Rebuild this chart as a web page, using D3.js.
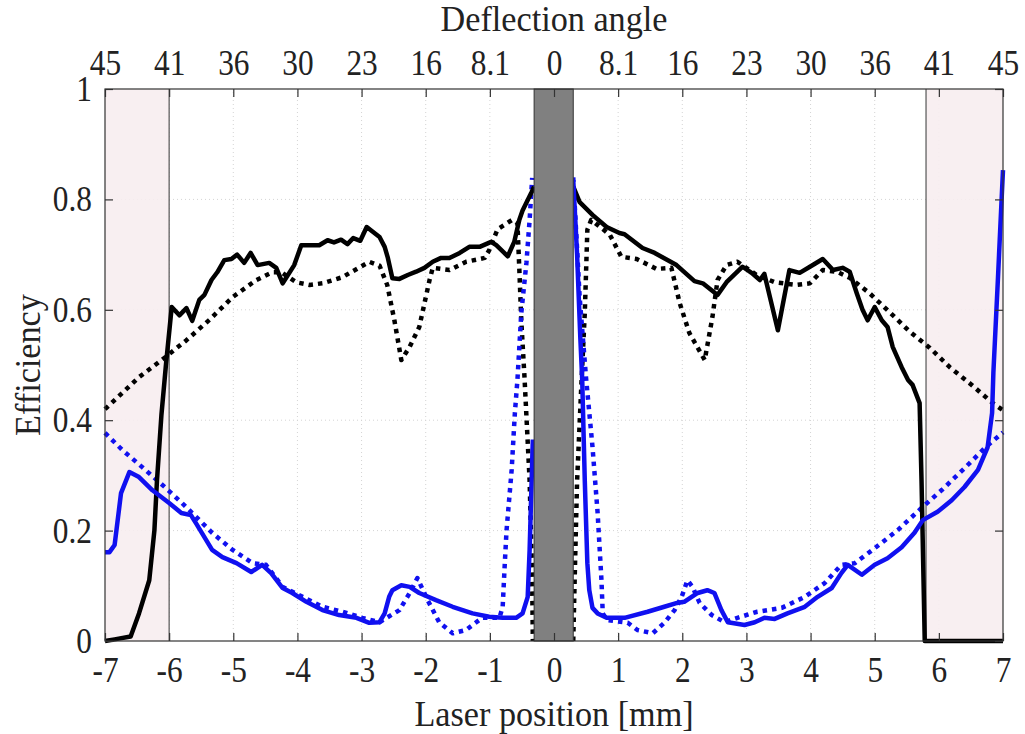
<!DOCTYPE html>
<html>
<head>
<meta charset="utf-8">
<script src="https://cdn.jsdelivr.net/npm/d3@7"></script>
<style>
  body { margin: 0; background: #fff; }
  text { font-family: "Liberation Serif", "Times New Roman", serif; fill: #222; }
</style>
</head>
<body>
<div id="chart"></div>
<script>
// datos (mm, eficiencia)
const xTicks = d3.range(-7, 8);
const yTicks = [0, 0.2, 0.4, 0.6, 0.8, 1];
const angleLabels = ["45", "41", "36", "30", "23", "16", "8.1", "0", "8.1", "16", "23", "30", "36", "41", "45"];

const blackSolidL = [[-7,0],[-6.85,0.003],[-6.6,0.008],[-6.47,0.05],[-6.31,0.11],[-6.23,0.2],[-6.19,0.29],[-6.12,0.41],[-6.05,0.5],[-5.96,0.605],[-5.84,0.59],[-5.73,0.603],[-5.64,0.58],[-5.53,0.618],[-5.45,0.627],[-5.34,0.654],[-5.25,0.668],[-5.14,0.69],[-5.03,0.692],[-4.94,0.70],[-4.83,0.685],[-4.73,0.703],[-4.62,0.681],[-4.44,0.685],[-4.33,0.676],[-4.23,0.648],[-4.05,0.681],[-3.94,0.717],[-3.66,0.717],[-3.53,0.726],[-3.43,0.722],[-3.32,0.727],[-3.22,0.719],[-3.13,0.73],[-3.02,0.725],[-2.92,0.75],[-2.72,0.732],[-2.64,0.714],[-2.59,0.694],[-2.52,0.657],[-2.41,0.656],[-2.28,0.663],[-2.15,0.669],[-2.02,0.676],[-1.89,0.687],[-1.76,0.694],[-1.63,0.694],[-1.47,0.703],[-1.32,0.714],[-1.16,0.714],[-0.98,0.723],[-0.9,0.717],[-0.72,0.697],[-0.62,0.723],[-0.54,0.763],[-0.49,0.78],[-0.35,0.813],[-0.31,0.823]];
const blackSolidR = [[0.3,0.823],[0.4,0.795],[0.6,0.772],[0.82,0.75],[1.02,0.739],[1.1,0.737],[1.38,0.712],[1.57,0.703],[1.91,0.681],[2.19,0.652],[2.32,0.648],[2.55,0.627],[2.69,0.65],[2.94,0.678],[3.08,0.667],[3.21,0.654],[3.28,0.665],[3.49,0.563],[3.67,0.672],[3.83,0.667],[3.99,0.678],[4.19,0.692],[4.35,0.672],[4.5,0.676],[4.61,0.669],[4.72,0.63],[4.81,0.6],[4.89,0.581],[5.0,0.605],[5.11,0.581],[5.2,0.569],[5.28,0.533],[5.42,0.496],[5.52,0.473],[5.59,0.464],[5.7,0.431],[5.73,0.29],[5.78,0],[7,0]];
const blackDotL = [[-7,0.42],[-6.47,0.478],[-6.05,0.515],[-5.73,0.545],[-5.37,0.582],[-5.01,0.623],[-4.64,0.654],[-4.39,0.668],[-4.25,0.668],[-4.02,0.65],[-3.81,0.645],[-3.61,0.648],[-3.3,0.659],[-2.88,0.687],[-2.72,0.68],[-2.6,0.645],[-2.49,0.582],[-2.38,0.509],[-2.25,0.533],[-2.1,0.569],[-1.94,0.654],[-1.89,0.676],[-1.63,0.672],[-1.37,0.687],[-1.08,0.694],[-1.01,0.708],[-0.88,0.746],[-0.65,0.763],[-0.57,0.757],[-0.54,0.672],[-0.51,0.58],[-0.46,0.478],[-0.38,0.29],[-0.34,0.11],[-0.33,0]];
const blackDotR = [[0.3,0],[0.33,0.15],[0.36,0.29],[0.43,0.473],[0.48,0.594],[0.52,0.745],[0.58,0.763],[0.87,0.736],[1.05,0.696],[1.29,0.692],[1.6,0.674],[1.83,0.676],[1.96,0.612],[2.11,0.558],[2.35,0.509],[2.47,0.587],[2.55,0.654],[2.69,0.681],[2.86,0.687],[3.16,0.663],[3.44,0.65],[3.78,0.645],[3.99,0.648],[4.19,0.672],[4.41,0.669],[4.61,0.658],[4.92,0.63],[5.23,0.596],[5.55,0.56],[5.86,0.531],[6.17,0.496],[6.48,0.467],[6.84,0.431],[7,0.418]];
const blueSolidL = [[-7,0.161],[-6.93,0.161],[-6.85,0.174],[-6.75,0.268],[-6.62,0.306],[-6.47,0.297],[-6.26,0.273],[-6.0,0.25],[-5.81,0.232],[-5.66,0.228],[-5.58,0.213],[-5.33,0.165],[-5.17,0.152],[-4.95,0.141],[-4.72,0.125],[-4.55,0.138],[-4.41,0.123],[-4.23,0.096],[-4.08,0.087],[-3.86,0.071],[-3.61,0.056],[-3.35,0.047],[-3.08,0.042],[-2.88,0.033],[-2.72,0.034],[-2.64,0.05],[-2.57,0.08],[-2.52,0.092],[-2.38,0.101],[-2.25,0.098],[-2.1,0.087],[-1.84,0.074],[-1.58,0.062],[-1.27,0.05],[-1.01,0.044],[-0.8,0.042],[-0.59,0.042],[-0.49,0.05],[-0.41,0.08],[-0.38,0.165],[-0.35,0.286],[-0.33,0.365]];
const blueSolidR = [[0.3,0.835],[0.36,0.7],[0.41,0.55],[0.44,0.473],[0.48,0.29],[0.52,0.141],[0.55,0.092],[0.6,0.06],[0.68,0.05],[0.82,0.042],[1.1,0.042],[1.46,0.053],[1.72,0.062],[1.92,0.069],[2.03,0.071],[2.24,0.087],[2.39,0.092],[2.5,0.087],[2.61,0.056],[2.71,0.034],[2.97,0.029],[3.13,0.034],[3.28,0.042],[3.44,0.04],[3.64,0.05],[3.91,0.062],[4.11,0.08],[4.33,0.096],[4.48,0.123],[4.58,0.138],[4.8,0.12],[5.0,0.138],[5.2,0.15],[5.42,0.17],[5.62,0.196],[5.75,0.219],[5.98,0.234],[6.2,0.255],[6.4,0.279],[6.61,0.31],[6.76,0.351],[6.83,0.413],[6.85,0.486],[6.92,0.654],[6.98,0.804],[7.0,0.853]];
const blueDotL = [[-7,0.377],[-6.73,0.346],[-6.42,0.315],[-6.05,0.277],[-5.8,0.25],[-5.58,0.225],[-5.33,0.196],[-5.01,0.165],[-4.7,0.141],[-4.49,0.138],[-4.23,0.098],[-3.92,0.08],[-3.61,0.062],[-3.3,0.053],[-2.99,0.042],[-2.72,0.034],[-2.41,0.056],[-2.25,0.087],[-2.13,0.114],[-1.97,0.074],[-1.79,0.034],[-1.58,0.014],[-1.37,0.02],[-1.12,0.042],[-0.85,0.042],[-0.8,0.062],[-0.77,0.134],[-0.74,0.2],[-0.66,0.31],[-0.61,0.413],[-0.57,0.473],[-0.51,0.594],[-0.43,0.685],[-0.38,0.763],[-0.34,0.839]];
const blueDotR = [[0.3,0.84],[0.4,0.623],[0.5,0.476],[0.6,0.352],[0.68,0.232],[0.74,0.11],[0.76,0.05],[0.83,0.038],[1.15,0.033],[1.3,0.02],[1.54,0.014],[1.72,0.033],[1.88,0.056],[1.99,0.08],[2.08,0.11],[2.16,0.098],[2.27,0.069],[2.46,0.047],[2.66,0.034],[2.86,0.042],[3.17,0.053],[3.55,0.06],[3.91,0.08],[4.22,0.105],[4.48,0.138],[4.69,0.141],[5.0,0.168],[5.36,0.201],[5.73,0.241],[6.05,0.274],[6.4,0.313],[6.72,0.35],[7,0.378]];

// zonas sombreadas y banda central
const shadeZones = [[-7, -6], [5.8, 7]];
const centerBand = [-0.31, 0.3];

const width = 1025, height = 734;
const margin = { top: 89, right: 22, bottom: 93, left: 105 };
const sx = 0.87; // letra estrecha

const svg = d3.select("#chart").append("svg")
  .attr("width", width)
  .attr("height", height);

const x = d3.scaleLinear().domain([-7, 7]).range([margin.left, width - margin.right]);
const y = d3.scaleLinear().domain([0, 1]).range([height - margin.bottom, margin.top]);

// rejilla
svg.append("g").selectAll("line")
  .data(xTicks.slice(1, -1))
  .enter().append("line")
  .attr("x1", d => x(d)).attr("x2", d => x(d))
  .attr("y1", y(0)).attr("y2", y(1))
  .attr("stroke", "#d4d4d4").attr("stroke-width", 1).attr("stroke-dasharray", "1,3");
svg.append("g").selectAll("line")
  .data(yTicks.slice(1, -1))
  .enter().append("line")
  .attr("x1", x(-7)).attr("x2", x(7))
  .attr("y1", d => y(d)).attr("y2", d => y(d))
  .attr("stroke", "#d4d4d4").attr("stroke-width", 1).attr("stroke-dasharray", "1,3");

// sombreado
svg.append("g").selectAll("rect")
  .data(shadeZones)
  .enter().append("rect")
  .attr("x", d => x(d[0]))
  .attr("y", y(1))
  .attr("width", d => x(d[1]) - x(d[0]))
  .attr("height", y(0) - y(1))
  .attr("fill", "#f7edef")
  .attr("fill-opacity", 0.9);

svg.append("g").selectAll("line")
  .data([-6, 5.8])
  .enter().append("line")
  .attr("x1", d => x(d)).attr("x2", d => x(d))
  .attr("y1", y(0)).attr("y2", y(1))
  .attr("stroke", "#555").attr("stroke-width", 1.2);

// curvas
const line = d3.line().x(d => x(d[0])).y(d => y(d[1]));
const series = [
  { data: blackDotL, color: "#000", dash: "4.5,5" },
  { data: blackDotR, color: "#000", dash: "4.5,5" },
  { data: blueDotL, color: "#1010f0", dash: "4.5,5" },
  { data: blueDotR, color: "#1010f0", dash: "4.5,5" },
  { data: blackSolidL, color: "#000", dash: null },
  { data: blackSolidR, color: "#000", dash: null },
  { data: blueSolidL, color: "#1010f0", dash: null },
  { data: blueSolidR, color: "#1010f0", dash: null }
];
svg.append("g").selectAll("path")
  .data(series)
  .enter().append("path")
  .attr("d", d => line(d.data))
  .attr("fill", "none")
  .attr("stroke", d => d.color)
  .attr("stroke-width", 4.5)
  .attr("stroke-linejoin", "round")
  .attr("stroke-dasharray", d => d.dash);

// banda central
svg.append("rect")
  .attr("x", x(centerBand[0]))
  .attr("y", y(1))
  .attr("width", x(centerBand[1]) - x(centerBand[0]))
  .attr("height", y(0) - y(1))
  .attr("fill", "#808080")
  .attr("stroke", "#333")
  .attr("stroke-width", 1);

// ejes
const tickFont = "36px";

const gBottom = svg.append("g")
  .attr("transform", "translate(0," + y(0) + ")")
  .call(d3.axisBottom(x).tickValues(xTicks).tickFormat(d => String(d)).tickSizeInner(-8).tickSizeOuter(0).tickPadding(15));
const gTop = svg.append("g")
  .attr("transform", "translate(0," + y(1) + ")")
  .call(d3.axisTop(x).tickValues(xTicks).tickFormat((d, i) => angleLabels[i]).tickSizeInner(-8).tickSizeOuter(0).tickPadding(14));
const gLeft = svg.append("g")
  .attr("transform", "translate(" + x(-7) + ",0)")
  .call(d3.axisLeft(y).tickValues(yTicks).tickFormat(d => String(d)).tickSizeInner(-8).tickSizeOuter(0).tickPadding(15));
const gRight = svg.append("g")
  .attr("transform", "translate(" + x(7) + ",0)")
  .call(d3.axisRight(y).tickValues(yTicks).tickFormat("").tickSizeInner(-8).tickSizeOuter(0));

[gBottom, gTop, gLeft, gRight].forEach(g => {
  g.attr("font-family", null);
  g.select(".domain").remove();
  g.selectAll(".tick line").attr("stroke", "#333").attr("stroke-width", 1.2);
  g.selectAll("text")
    .style("font-size", tickFont)
    .attr("fill", "#222")
    .attr("transform", "scale(" + sx + ",1)");
});

// marco
svg.append("rect")
  .attr("x", x(-7)).attr("y", y(1))
  .attr("width", x(7) - x(-7)).attr("height", y(0) - y(1))
  .attr("fill", "none").attr("stroke", "#333").attr("stroke-width", 1.2);

// titulos
function title(txt, px, py, rot) {
  svg.append("text")
    .attr("transform", "translate(" + px + "," + py + ") rotate(" + rot + ") scale(0.95,1)")
    .attr("text-anchor", "middle")
    .style("font-size", "36px")
    .text(txt);
}
title("Deflection angle", x(0), 31, 0);
title("Laser position [mm]", x(0), 726, 0);
title("Efficiency", 40, y(0.5), -90);
</script>
</body>
</html>
